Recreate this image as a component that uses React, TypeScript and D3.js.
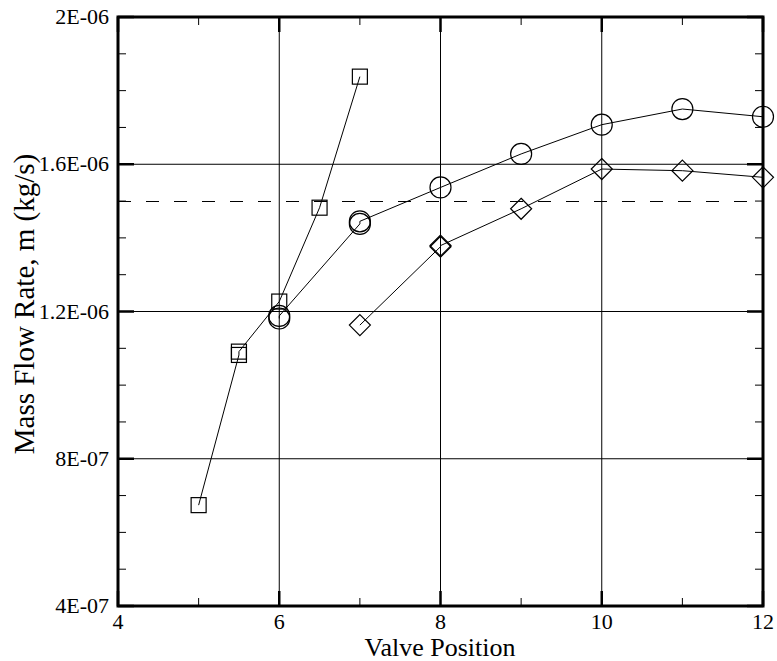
import React from "react";
import * as d3 from "d3";

const xTicks = [4, 6, 8, 10, 12];
const xTickLabels = ["4", "6", "8", "10", "12"];
const xMinorTicks = [5, 7, 9, 11];
const yTicks = [4e-7, 8e-7, 1.2e-6, 1.6e-6, 2e-6];
const yTickLabels = ["4E-07", "8E-07", "1.2E-06", "1.6E-06", "2E-06"];
const yMinorTicks = [5e-7, 6e-7, 7e-7, 9e-7, 1e-6, 1.1e-6, 1.3e-6, 1.4e-6, 1.5e-6, 1.7e-6, 1.8e-6, 1.9e-6];
const xGrid = [6, 8, 10];
const yGrid = [8e-7, 1.2e-6, 1.6e-6];
const referenceLevel = 1.5e-6;

const squareX = [5, 5.5, 5.5, 6, 6.5, 7];
const squareY = [6.74e-7, 1.082e-6, 1.091e-6, 1.227e-6, 1.482e-6, 1.838e-6];
const circleX = [6, 6, 7, 7, 8, 9, 10, 11, 12];
const circleY = [1.181e-6, 1.188e-6, 1.438e-6, 1.445e-6, 1.537e-6, 1.628e-6, 1.7075e-6, 1.75e-6, 1.729e-6];
const diamondX = [7, 8, 8, 9, 10, 11, 12];
const diamondY = [1.163e-6, 1.376e-6, 1.379e-6, 1.479e-6, 1.587e-6, 1.5825e-6, 1.5645e-6];

export default function App() {
  const W = 777, H = 661;
  const L = 118, R = 763, T = 17, B = 606;
  const x = d3.scaleLinear().domain([4, 12]).range([L, R]);
  const y = d3.scaleLinear().domain([4e-7, 2e-6]).range([B, T]);
  const line = d3.line<[number, number]>().x(d => x(d[0])).y(d => y(d[1]));
  const zip = (a: number[], b: number[]) => a.map((v, i) => [v, b[i]] as [number, number]);
  const sq = zip(squareX, squareY);
  const ci = zip(circleX, circleY);
  const di = zip(diamondX, diamondY);
  const ff = "Liberation Serif";

  return (
    <svg width={W} height={H} fontFamily={ff} style={{ position: "absolute", left: 0, top: 0, background: "#fff" }}>
      <rect x={0} y={0} width={W} height={H} fill="#fff" />
      {xGrid.map((v, i) => (
        <line key={"xg" + i} x1={x(v)} x2={x(v)} y1={T} y2={B} stroke="#000" strokeWidth={1} />
      ))}
      {yGrid.map((v, i) => (
        <line key={"yg" + i} x1={L} x2={R} y1={y(v)} y2={y(v)} stroke="#000" strokeWidth={1} />
      ))}
      <line x1={L} x2={R} y1={y(referenceLevel)} y2={y(referenceLevel)} stroke="#000" strokeWidth={1} strokeDasharray="13,15" shapeRendering="crispEdges" />
      <path d={line(sq) || ""} fill="none" stroke="#000" strokeWidth={1} />
      <path d={line(ci) || ""} fill="none" stroke="#000" strokeWidth={1} />
      <path d={line(di) || ""} fill="none" stroke="#000" strokeWidth={1} />
      {sq.map((d, i) => (
        <rect key={"s" + i} x={x(d[0]) - 7.5} y={y(d[1]) - 7.5} width={15} height={15} fill="none" stroke="#000" strokeWidth={1.2} />
      ))}
      {ci.map((d, i) => (
        <circle key={"c" + i} cx={x(d[0])} cy={y(d[1])} r={10.5} fill="none" stroke="#000" strokeWidth={1.2} />
      ))}
      {di.map((d, i) => {
        const cx = x(d[0]), cy = y(d[1]), h = 10.5;
        return (
          <path key={"d" + i} d={`M${cx},${cy - h}L${cx + h},${cy}L${cx},${cy + h}L${cx - h},${cy}Z`} fill="none" stroke="#000" strokeWidth={1.2} />
        );
      })}
      {xTicks.map((v, i) => (
        <g key={"xt" + i}>
          <line x1={x(v)} x2={x(v)} y1={B} y2={B - 15} stroke="#000" strokeWidth={2.5} />
          <line x1={x(v)} x2={x(v)} y1={T} y2={T + 15} stroke="#000" strokeWidth={2.5} />
          <text x={x(v)} y={629} textAnchor="middle" fontFamily={ff} fontSize={22}>{xTickLabels[i]}</text>
        </g>
      ))}
      {xMinorTicks.map((v, i) => (
        <g key={"xm" + i}>
          <line x1={x(v)} x2={x(v)} y1={B} y2={B - 8} stroke="#000" strokeWidth={1} />
          <line x1={x(v)} x2={x(v)} y1={T} y2={T + 8} stroke="#000" strokeWidth={1} />
        </g>
      ))}
      {yTicks.map((v, i) => (
        <g key={"yt" + i}>
          <line x1={L} x2={L + 16} y1={y(v)} y2={y(v)} stroke="#000" strokeWidth={2.5} />
          <line x1={R} x2={R - 16} y1={y(v)} y2={y(v)} stroke="#000" strokeWidth={2.5} />
          <text x={109} y={y(v) + 7} textAnchor="end" fontFamily={ff} fontSize={22}>{yTickLabels[i]}</text>
        </g>
      ))}
      {yMinorTicks.map((v, i) => (
        <g key={"ym" + i}>
          <line x1={L} x2={L + 8} y1={y(v)} y2={y(v)} stroke="#000" strokeWidth={1} />
          <line x1={R} x2={R - 8} y1={y(v)} y2={y(v)} stroke="#000" strokeWidth={1} />
        </g>
      ))}
      <rect x={L} y={T} width={R - L} height={B - T} fill="none" stroke="#000" strokeWidth={3} />
      <text x={440} y={656} textAnchor="middle" fontFamily={ff} fontSize={26}>Valve Position</text>
      <text transform={`translate(34,304) rotate(-90)`} textAnchor="middle" fontFamily={ff} fontSize={29}>Mass Flow Rate, m (kg/s)</text>
    </svg>
  );
}
